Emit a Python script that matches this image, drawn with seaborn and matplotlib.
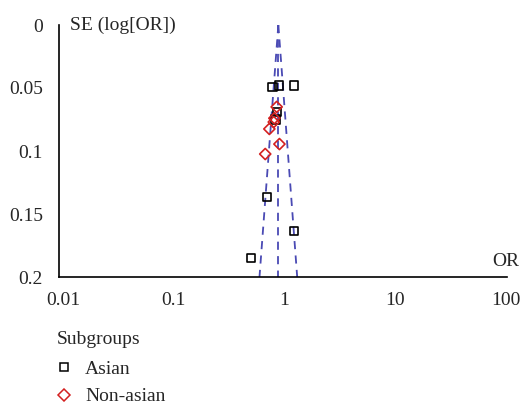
import numpy as np
import pandas as pd
import matplotlib
matplotlib.use("Agg")
import matplotlib.pyplot as plt
import seaborn as sns
from matplotlib.lines import Line2D

# ---- data ----
asian_or = [0.78, 0.90, 1.21, 0.85, 0.83, 0.69, 1.21, 0.50]
asian_se = [0.049, 0.048, 0.048, 0.069, 0.075, 0.1365, 0.1635, 0.185]
nonasian_or = [0.85, 0.81, 0.80, 0.73, 0.90, 0.67]
nonasian_se = [0.065, 0.074, 0.077, 0.0825, 0.0945, 0.1024]
pooled_or = 0.88
se_max = 0.2
x_ticks = [0.01, 0.1, 1, 10, 100]
x_labels = ["0.01", "0.1", "1", "10", "100"]
y_ticks = [0, 0.05, 0.1, 0.15, 0.2]
y_labels = ["0", "0.05", "0.1", "0.15", "0.2"]
groups = ["Asian", "Non-asian"]

FS = 14
sns.set_style("white")
plt.rcParams["font.family"] = ["Liberation Serif", "DejaVu Serif"]
plt.rcParams["font.size"] = FS

df = pd.concat([
    pd.DataFrame({"OR": asian_or, "SE": asian_se, "Subgroup": groups[0]}),
    pd.DataFrame({"OR": nonasian_or, "SE": nonasian_se, "Subgroup": groups[1]}),
])

fig = plt.figure(figsize=(5.22, 4.04), dpi=100)
ax = fig.add_axes([59/522, 1-277/404, 448/522, 252/404])

# funnel
se_grid = np.linspace(0, se_max, 50)
funnel = pd.DataFrame({
    "SE": np.concatenate([se_grid]*3),
    "OR": np.concatenate([
        np.exp(np.log(pooled_or) - 1.96*se_grid),
        np.full_like(se_grid, pooled_or),
        np.exp(np.log(pooled_or) + 1.96*se_grid)]),
    "line": np.repeat(["lo", "mid", "hi"], len(se_grid)),
})
fc = "#4a4ab4"
for name, g in funnel.groupby("line"):
    sns.lineplot(data=g, x="OR", y="SE", sort=False, ax=ax, color=fc,
                 linewidth=1.3, linestyle=(0, (4.5, 3.5)), estimator=None)

sns.scatterplot(data=df[df.Subgroup == groups[0]], x="OR", y="SE", ax=ax,
                marker="s", s=34, facecolor="none", edgecolor="black",
                linewidth=1.2, zorder=3)
sns.scatterplot(data=df[df.Subgroup == groups[1]], x="OR", y="SE", ax=ax,
                marker="D", s=32, facecolor="none", edgecolor="#d42020",
                linewidth=1.2, zorder=3)

ax.set_xscale("log")
ax.set_xlim(10**(-2 - 4/111.5), 100 * 10**(1/111.5))
ax.set_ylim(0.2, 0)
ax.set_xticks(x_ticks)
ax.set_xticklabels(x_labels)
ax.minorticks_off()
ax.set_yticks(y_ticks)
ax.set_yticklabels(y_labels)
ax.set_xlabel("")
ax.set_ylabel("")
for s in ["top", "right"]:
    ax.spines[s].set_visible(False)
for s in ["left", "bottom"]:
    ax.spines[s].set_color("black")
    ax.spines[s].set_linewidth(1.2)
ax.tick_params(direction="inout", length=5, width=1, color="black",
               labelsize=FS)
ax.tick_params(axis="x", pad=8)
ax.tick_params(axis="y", pad=9)

ax.text(11/448, 1.0, "SE (log[OR])", transform=ax.transAxes, ha="left",
        va="center", fontsize=FS)
fig.text(519/522, 1-261/404, "OR", ha="right", va="center", fontsize=FS)

handles = [
    Line2D([], [], marker="s", linestyle="none", markerfacecolor="none",
           markeredgecolor="black", markersize=6, markeredgewidth=1.1),
    Line2D([], [], marker="D", linestyle="none", markerfacecolor="none",
           markeredgecolor="#d42020", markersize=6, markeredgewidth=1.1),
]
leg = fig.legend(handles, groups, title="Subgroups", loc="upper left",
                 bbox_to_anchor=(57/522, 1-331/404), frameon=False,
                 fontsize=FS, title_fontsize=FS, handlelength=0.7,
                 handletextpad=0.75, labelspacing=0.5, borderpad=0,
                 borderaxespad=0)
leg._legend_box.align = "left"
leg._legend_box.sep = 9

fig.savefig("out.png", dpi=100)
